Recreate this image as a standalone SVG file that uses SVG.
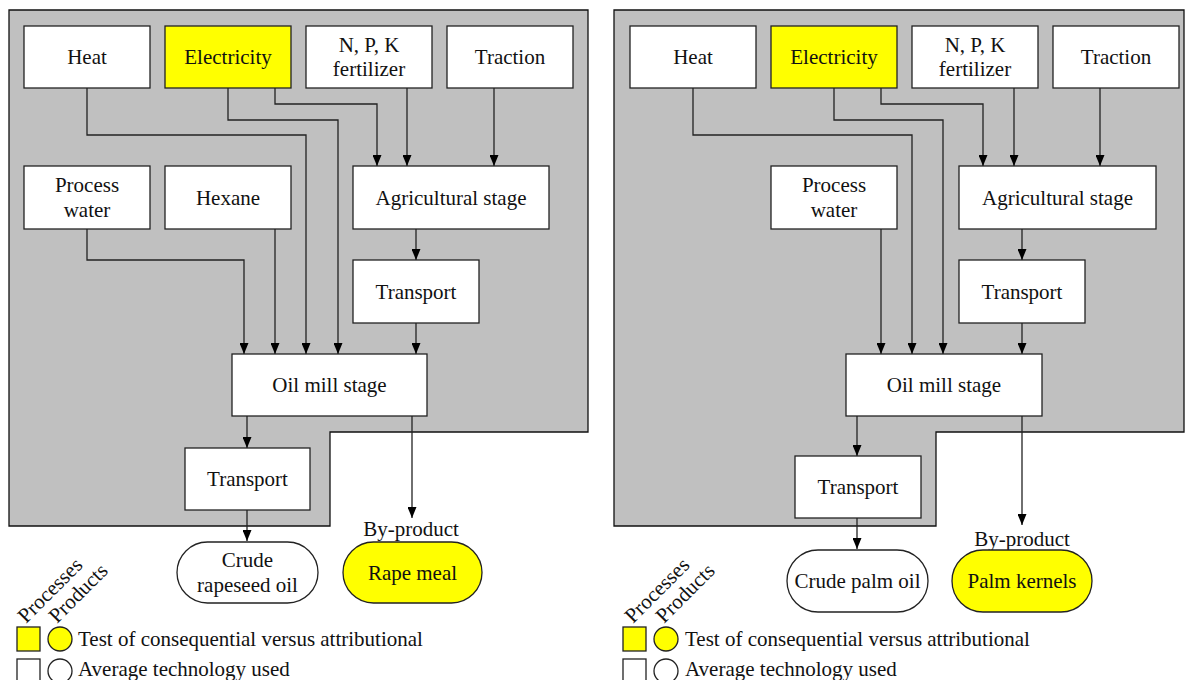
<svg xmlns="http://www.w3.org/2000/svg" width="1185" height="680" viewBox="0 0 1185 680">
<style>
text{font-family:"Liberation Serif","Times New Roman",serif;font-size:21px;fill:#111;text-anchor:middle}
.lg{text-anchor:start}
.bg{fill:#c0c0c0;stroke:#111;stroke-width:1.3}
.box{fill:#fff;stroke:#222;stroke-width:1.3}
.yel{fill:#ffff00;stroke:#222;stroke-width:1.3}
.c{fill:none;stroke:#222;stroke-width:1.3}
.a{marker-end:url(#ah)}
</style>
<defs>
<marker id="ah" viewBox="0 0 11 9" refX="11" refY="4.5" markerWidth="11" markerHeight="9" markerUnits="userSpaceOnUse" orient="auto">
<path d="M0,0 L11,4.5 L0,9 z" fill="#000"/>
</marker>
</defs>

<!-- LEFT PANEL -->
<path id="left-system" class="bg" d="M9,10 H588 V432 H330 V526 H9 Z"/>
<g id="connectors-left">
<path class="c a" d="M87,88 V135 H306 V354"/>
<path class="c a" d="M228,88 V120 H338 V354"/>
<path class="c a" d="M275,88 V104 H377 V166"/>
<path class="c a" d="M407,88 V166"/>
<path class="c a" d="M494,88 V166"/>
<path class="c a" d="M87,229 V260 H244 V354"/>
<path class="c a" d="M275,229 V354"/>
<path class="c a" d="M416,229 V260"/>
<path class="c a" d="M416,323 V354"/>
<path class="c a" d="M247,416 V448"/>
<path class="c a" d="M247,510 V541"/>
<path class="c a" d="M412,416 V518"/>
</g>
<g id="l-heat"><rect class="box" x="24" y="26" width="126" height="62"/><text x="87" y="64">Heat</text></g>
<g id="l-electricity"><rect class="yel" x="165" y="26" width="126" height="62"/><text x="228" y="64">Electricity</text></g>
<g id="l-npk"><rect class="box" x="306" y="26" width="126" height="62"/><text x="369" y="52">N, P, K</text><text x="369" y="76">fertilizer</text></g>
<g id="l-traction"><rect class="box" x="447" y="26" width="126" height="62"/><text x="510" y="64">Traction</text></g>
<g id="l-water"><rect class="box" x="24" y="166" width="126" height="63"/><text x="87" y="192">Process</text><text x="87" y="217">water</text></g>
<g id="l-hexane"><rect class="box" x="165" y="166" width="126" height="63"/><text x="228" y="205">Hexane</text></g>
<g id="l-agri"><rect class="box" x="353" y="166" width="196" height="63"/><text x="451" y="205">Agricultural stage</text></g>
<g id="l-transport1"><rect class="box" x="353" y="260" width="126" height="63"/><text x="416" y="299">Transport</text></g>
<g id="l-oilmill"><rect class="box" x="232" y="354" width="195" height="62"/><text x="329.5" y="392">Oil mill stage</text></g>
<g id="l-transport2"><rect class="box" x="185" y="448" width="125" height="62"/><text x="247.5" y="486">Transport</text></g>
<g id="l-byproduct-label"><text x="411" y="536">By-product</text></g>
<g id="l-crude"><rect class="box" x="177" y="542" width="141" height="61" rx="30.5"/><text x="247.5" y="567">Crude</text><text x="247.5" y="592">rapeseed oil</text></g>
<g id="l-rapemeal"><rect class="yel" x="343" y="542" width="139" height="61" rx="30.5"/><text x="412.5" y="580">Rape meal</text></g>
<g id="l-legend">
<text class="lg" x="26" y="624" transform="rotate(-45 26 624)">Processes</text>
<text class="lg" x="57" y="624" transform="rotate(-45 57 624)">Products</text>
<rect class="yel" x="17" y="627" width="23" height="24"/>
<circle class="yel" cx="60" cy="639" r="12"/>
<text class="lg" x="78" y="646">Test of consequential versus attributional</text>
<rect class="box" x="17" y="659" width="23" height="24"/>
<circle class="box" cx="60" cy="671" r="12"/>
<text class="lg" x="78" y="675.5">Average technology used</text>
</g>

<!-- RIGHT PANEL -->
<path id="right-system" class="bg" d="M614,10 H1184 V432 H936 V526 H614 Z"/>
<g id="connectors-right">
<path class="c a" d="M693,88 V135 H912 V354"/>
<path class="c a" d="M834,88 V120 H943 V354"/>
<path class="c a" d="M881,88 V104 H983 V166"/>
<path class="c a" d="M1014,88 V166"/>
<path class="c a" d="M1100,88 V166"/>
<path class="c a" d="M881,229 V354"/>
<path class="c a" d="M1022,229 V260"/>
<path class="c a" d="M1022,323 V354"/>
<path class="c a" d="M857,416 V456"/>
<path class="c a" d="M857,518 V549"/>
<path class="c a" d="M1022,416 V525"/>
</g>
<g id="r-heat"><rect class="box" x="630" y="26" width="126" height="62"/><text x="693" y="64">Heat</text></g>
<g id="r-electricity"><rect class="yel" x="771" y="26" width="126" height="62"/><text x="834" y="64">Electricity</text></g>
<g id="r-npk"><rect class="box" x="912" y="26" width="126" height="62"/><text x="975" y="52">N, P, K</text><text x="975" y="76">fertilizer</text></g>
<g id="r-traction"><rect class="box" x="1053" y="26" width="126" height="62"/><text x="1116" y="64">Traction</text></g>
<g id="r-water"><rect class="box" x="771" y="166" width="126" height="63"/><text x="834" y="192">Process</text><text x="834" y="217">water</text></g>
<g id="r-agri"><rect class="box" x="959" y="166" width="197" height="63"/><text x="1057.5" y="205">Agricultural stage</text></g>
<g id="r-transport1"><rect class="box" x="959" y="260" width="126" height="63"/><text x="1022" y="299">Transport</text></g>
<g id="r-oilmill"><rect class="box" x="846" y="354" width="196" height="62"/><text x="944" y="392">Oil mill stage</text></g>
<g id="r-transport2"><rect class="box" x="795" y="456" width="126" height="62"/><text x="858" y="494">Transport</text></g>
<g id="r-byproduct-label"><text x="1022" y="546">By-product</text></g>
<g id="r-crude"><rect class="box" x="787" y="550" width="141" height="62" rx="31"/><text x="857.5" y="588">Crude palm oil</text></g>
<g id="r-kernels"><rect class="yel" x="952" y="550" width="140" height="62" rx="31"/><text x="1022" y="588">Palm kernels</text></g>
<g id="r-legend">
<text class="lg" x="633" y="624" transform="rotate(-45 633 624)">Processes</text>
<text class="lg" x="664" y="624" transform="rotate(-45 664 624)">Products</text>
<rect class="yel" x="623" y="627" width="23" height="24"/>
<circle class="yel" cx="666" cy="639" r="12"/>
<text class="lg" x="685" y="646">Test of consequential versus attributional</text>
<rect class="box" x="623" y="659" width="23" height="24"/>
<circle class="box" cx="666" cy="671" r="12"/>
<text class="lg" x="685" y="675.5">Average technology used</text>
</g>
</svg>
